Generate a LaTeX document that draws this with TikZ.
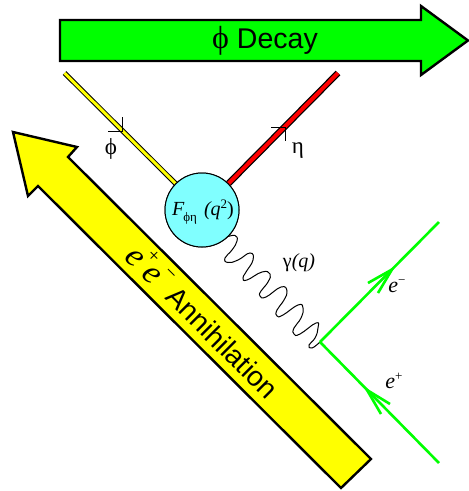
\documentclass[tikz,border=0pt]{standalone}
\usepackage{fontspec}
\setmainfont{Liberation Sans}
\newfontfamily\tim{Liberation Serif}
\usetikzlibrary{calc}
\definecolor{grn}{RGB}{0,255,0}
\definecolor{cya}{RGB}{128,255,255}
\definecolor{yel}{RGB}{255,255,0}
\definecolor{rd}{RGB}{255,0,0}
\tikzset{
  bigarrow/.style={draw=black,line width=2.4pt,miter limit=10,line join=miter},
  eline/.style={draw=grn,line width=2.6pt},
  tick/.style={draw=black,line width=0.7pt},
  lab/.style={inner sep=0pt,text=black},
  blobstyle/.style={circle,draw=black,line width=1pt,fill=cya,minimum size=74pt,inner sep=0pt},
}
\begin{document}
\begin{tikzpicture}[x=1pt,y=-1pt]
\useasboundingbox (0,0) rectangle (469,491);
% green arrow
\draw[bigarrow,fill=grn] (60,20) -- (421,20) -- (421,6) -- (468,40.5) -- (421,75) -- (421,61) -- (60,61) -- cycle;
\node[lab,font=\fontsize{28.5}{28}\selectfont] (decay) at (265,41) {{\tim\fontsize{32}{32}\selectfont ϕ} Decay};
% yellow arrow
\draw[bigarrow,fill=yel] (13,132) -- (77,147) -- (68,157) -- (371,459) -- (341,488) -- (38,186) -- (28,196) -- cycle;
\node[lab,rotate=-45,font=\tim\fontsize{34}{34}\selectfont\itshape] (ee) at (151,266) {e\kern-1pt\raisebox{16.5pt}{\fontsize{20}{20}\selectfont\upshape +}\kern-1pt e\kern-1pt\raisebox{16.5pt}{\fontsize{20}{20}\selectfont\upshape −}};
\node[lab,rotate=-45,font=\fontsize{28}{28}\selectfont] (ann) at (222.5,342.5) {Annihilation};
% blob and mesons
\node[blobstyle] (blob) at (202,210) {};
\coordinate (phiend) at (64.5,73);
\coordinate (etaend) at (338,73);
\draw[line width=5pt,black] (phiend) -- (blob.135);
\draw[line width=3pt,yel] (phiend) -- (blob.135);
\draw[line width=6.5pt,black] (etaend) -- (blob.45);
\draw[line width=4pt,rd] (etaend) -- (blob.45);
\node[blobstyle] at (blob) {};
% ticks
\coordinate (pa) at (122,117); \coordinate (pb) at (122,131.5); \coordinate (pc) at (108,131.5);
\draw[tick] (pa) -- (pb) -- (pc);
\coordinate (ea) at (271,127); \coordinate (eb) at (285,127); \coordinate (ec) at (285,141);
\draw[tick] (ea) -- (eb) -- (ec);
\node[lab,font=\tim\fontsize{23}{23}\selectfont] (phil) at (111,149) {ϕ};
\node[lab,font=\tim\fontsize{23}{23}\selectfont] (etal) at (298,151) {η};
% blob text
\node[lab,font=\tim\fontsize{20}{20}\selectfont] (ff) at (203,212) {\itshape F\kern-1pt\raisebox{-6pt}{\upshape\fontsize{13}{13}\selectfont ϕη}\hspace{7pt}(q\raisebox{7pt}{\upshape\fontsize{13}{13}\selectfont 2}\upshape)};
% photon
\coordinate (vtx) at (320,342);
\draw[black,line width=1pt] plot[smooth,tension=0.85] coordinates {
(227,237) (235,235.5) (237,241) (232,250) (225,258) (228,262.5) (238,260) (250,253) (253,260) (246,272) (243,278) (247,280) (262,272) (270,274) (268,282) (261,291) (260,296) (266,297) (281,287) (287,291) (284,300) (277,310) (277,316) (283,315) (298,305) (303,308) (301,318) (294,328) (294,334) (300,334) (316,323) (318,328) (315,338) (309,345) (312,348) (320,342)};
% electron lines
\coordinate (eup) at (439,222);
\coordinate (edn) at (439,463);
\draw[eline] (vtx) -- (eup);
\draw[eline] (edn) -- (vtx);
\coordinate (a1) at (392,269.5);
\draw[eline] (368,283) -- (a1) -- (378,293);
\coordinate (a2) at (367,390);
\draw[eline] (390,404) -- (a2) -- (381,414);
\node[lab,font=\tim\fontsize{22}{22}\selectfont] (em) at (397,286) {\itshape e\raisebox{8pt}{\upshape\fontsize{13}{13}\selectfont −}};
\node[lab,font=\tim\fontsize{22}{22}\selectfont] (ep) at (394,381) {\itshape e\raisebox{8pt}{\upshape\fontsize{13}{13}\selectfont +}};
\node[lab,font=\tim\fontsize{20}{20}\selectfont] (gam) at (299,263) {γ{\itshape(q)}};
\end{tikzpicture}
\end{document}
